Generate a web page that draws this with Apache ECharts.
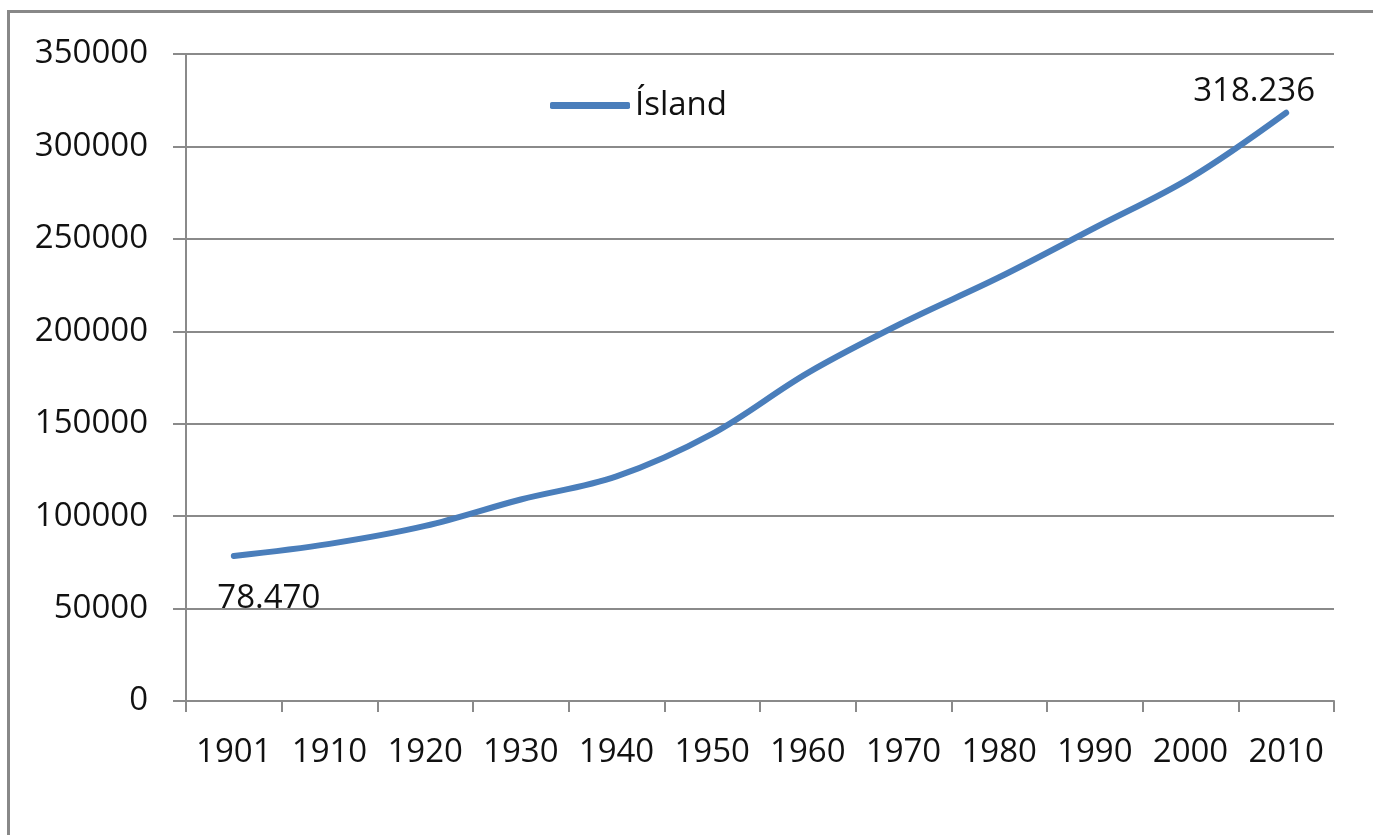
<!DOCTYPE html>
<html>
<head>
<meta charset="utf-8">
<style>
    html, body { margin: 0; padding: 0; background: #fff; }
    #frame { position: absolute; left: 7px; top: 10px; width: 1400px; height: 900px;
             border-left: 3px solid #888; border-top: 3px solid #888; }
    #chart { position: absolute; left: 0; top: 0; width: 1373px; height: 835px; }
</style>
<script src="https://cdn.jsdelivr.net/npm/echarts@6/dist/echarts.min.js"></script>
</head>
<body>
<div id="frame"></div>
<div id="chart"></div>
<script>
    // gögn
    var years = ['1901', '1910', '1920', '1930', '1940', '1950', '1960', '1970', '1980', '1990', '2000', '2010'];
    var population = [78470, 85000, 94700, 109000, 121500, 144500, 177500, 204800, 229200, 256000, 283000, 318236];
    var yTicks = [0, 50000, 100000, 150000, 200000, 250000, 300000, 350000];

    var font = '"Open Sans", "DejaVu Sans", sans-serif';
    var gray = '#8a8a8a';
    var blue = '#4a7ebb';
    var fs = 33;

    function isFmt(v) {
        return String(v).replace(/\B(?=(\d{3})+(?!\d))/g, '.');
    }

    var seriesData = population.map(function (v, i) {
        if (i === 0) {
            return { value: v, label: { show: true, position: 'bottom', offset: [35, 20] } };
        }
        if (i === population.length - 1) {
            return { value: v, label: { show: true, position: 'top', offset: [-32, 1] } };
        }
        return v;
    });

    var myChart = echarts.init(document.getElementById('chart'));
    myChart.setOption({
        animation: false,
        textStyle: { fontFamily: font },
        legend: {
            data: ['Ísland'],
            left: 545,
            top: 84,
            icon: 'roundRect',
            itemWidth: 80,
            itemHeight: 7,
            textStyle: { fontSize: fs, color: '#111', fontFamily: font }
        },
        grid: {
            left: 186,
            right: 39,
            top: 54,
            bottom: 134,
            containLabel: false
        },
        xAxis: {
            type: 'category',
            data: years,
            boundaryGap: true,
            axisLine: { lineStyle: { color: gray, width: 2 } },
            axisTick: { show: true, length: 11, lineStyle: { color: gray, width: 2 } },
            axisLabel: { color: '#111', fontSize: fs, margin: 35, fontFamily: font, interval: 0 }
        },
        yAxis: {
            type: 'value',
            min: yTicks[0],
            max: yTicks[yTicks.length - 1],
            interval: 50000,
            axisLine: { show: true, lineStyle: { color: gray, width: 2 } },
            axisTick: { show: true, length: 13, lineStyle: { color: gray, width: 2 } },
            axisLabel: {
                color: '#111', fontSize: fs, margin: 38, fontFamily: font,
                formatter: function (v) { return String(v); }
            },
            splitLine: { lineStyle: { color: gray, width: 2 } }
        },
        series: [
            {
                name: 'Ísland',
                type: 'line',
                data: seriesData,
                smooth: 0.35,
                symbol: 'circle',
                symbolSize: 2,
                showSymbol: true,
                color: blue,
                itemStyle: { color: blue },
                lineStyle: { width: 6, color: blue, cap: 'round' },
                label: {
                    show: false,
                    color: '#111',
                    fontSize: fs,
                    fontFamily: font,
                    formatter: function (p) { return isFmt(p.value); }
                }
            }
        ]
    });
</script>
</body>
</html>
